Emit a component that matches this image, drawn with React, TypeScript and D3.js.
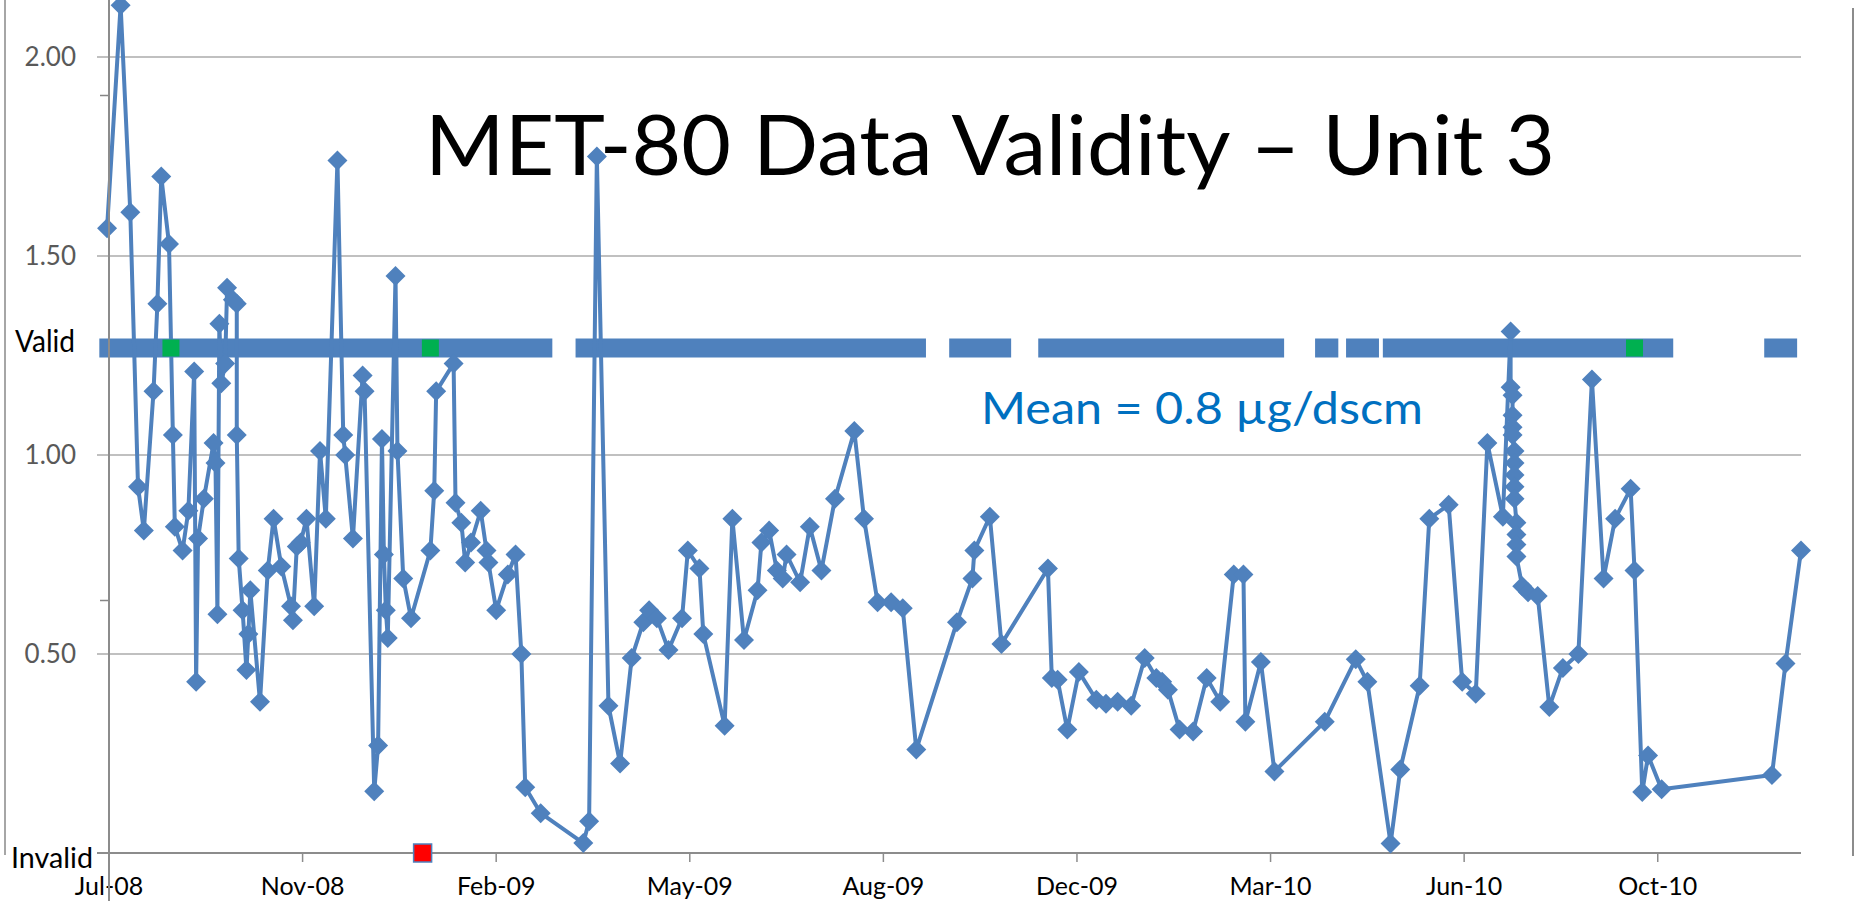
import React from "react";
import * as d3 from "d3";

// ---- data ----
const readingDates = [
  "2008-07-24","2008-07-31","2008-08-05","2008-08-09","2008-08-12","2008-08-17","2008-08-19","2008-08-21","2008-08-25","2008-08-27",
  "2008-08-28","2008-09-01","2008-09-04","2008-09-07","2008-09-08","2008-09-09","2008-09-12","2008-09-17","2008-09-18","2008-09-19",
  "2008-09-20","2008-09-21","2008-09-23","2008-09-24","2008-09-27","2008-09-29","2008-09-29","2008-09-30","2008-10-02","2008-10-04",
  "2008-10-05","2008-10-06","2008-10-11","2008-10-15","2008-10-18","2008-10-22","2008-10-27","2008-10-28","2008-10-30","2008-11-01",
  "2008-11-04","2008-11-08","2008-11-11","2008-11-14","2008-11-20","2008-11-23","2008-11-24","2008-11-28","2008-12-03","2008-12-04",
  "2008-12-09","2008-12-11","2008-12-13","2008-12-14","2008-12-15","2008-12-16","2008-12-20","2008-12-21","2008-12-24","2008-12-28",
  "2009-01-07","2009-01-09","2009-01-10","2009-01-19","2009-01-20","2009-01-23","2009-01-25","2009-01-28","2009-02-02","2009-02-05",
  "2009-02-06","2009-02-10","2009-02-16","2009-02-20","2009-02-23","2009-02-25","2009-03-05","2009-03-27","2009-03-30","2009-04-03",
  "2009-04-09","2009-04-15","2009-04-21","2009-04-27","2009-04-30","2009-05-04","2009-05-10","2009-05-17","2009-05-20","2009-05-26",
  "2009-05-28","2009-06-08","2009-06-12","2009-06-18","2009-06-25","2009-06-27","2009-07-01","2009-07-05","2009-07-08","2009-07-10",
  "2009-07-17","2009-07-22","2009-07-28","2009-08-04","2009-08-14","2009-08-19","2009-08-26","2009-09-02","2009-09-08","2009-09-15",
  "2009-10-06","2009-10-14","2009-10-15","2009-10-23","2009-10-29","2009-11-22","2009-11-24","2009-11-27","2009-12-02","2009-12-08",
  "2009-12-17","2009-12-22","2009-12-28","2010-01-04","2010-01-11","2010-01-17","2010-01-20","2010-01-23","2010-01-29","2010-02-05",
  "2010-02-12","2010-02-19","2010-02-26","2010-03-03","2010-03-04","2010-03-12","2010-03-19","2010-04-14","2010-04-30","2010-05-06",
  "2010-05-18","2010-05-23","2010-06-02","2010-06-07","2010-06-17","2010-06-24","2010-07-01","2010-07-07","2010-07-15","2010-07-19",
  "2010-07-19","2010-07-20","2010-07-20","2010-07-20","2010-07-20","2010-07-21","2010-07-21","2010-07-21","2010-07-21","2010-07-21",
  "2010-07-22","2010-07-22","2010-07-22","2010-07-22","2010-07-25","2010-07-28","2010-08-02","2010-08-08","2010-08-15","2010-08-23",
  "2010-08-30","2010-09-05","2010-09-11","2010-09-19","2010-09-21","2010-09-25","2010-09-28","2010-10-05","2010-12-01","2010-12-08",
  "2010-12-16"
];
const readingValues = [
  1.57, 2.13, 1.61, 0.92, 0.81, 1.16, 1.38, 1.70, 1.53, 1.05,
  0.82, 0.76, 0.86, 1.21, 0.43, 0.79, 0.89, 1.03, 0.98, 0.60,
  1.33, 1.18, 1.23, 1.42, 1.39, 1.38, 1.05, 0.74, 0.61, 0.46,
  0.55, 0.66, 0.38, 0.71, 0.84, 0.72, 0.62, 0.585, 0.77, 0.78,
  0.84, 0.62, 1.01, 0.84, 1.74, 1.05, 1.00, 0.79, 1.20, 1.16,
  0.155, 0.27, 1.04, 0.75, 0.61, 0.54, 1.45, 1.01, 0.69, 0.59,
  0.76, 0.91, 1.16, 1.23, 0.88, 0.83, 0.73, 0.78, 0.86, 0.76,
  0.73, 0.61, 0.70, 0.75, 0.50, 0.165, 0.10, 0.025, 0.08, 1.75,
  0.37, 0.225, 0.49, 0.58, 0.61, 0.59, 0.51, 0.59, 0.76, 0.715,
  0.55, 0.32, 0.84, 0.535, 0.66, 0.78, 0.81, 0.71, 0.69, 0.75,
  0.68, 0.82, 0.71, 0.89, 1.06, 0.84, 0.63, 0.63, 0.615, 0.26,
  0.58, 0.69, 0.76, 0.845, 0.525, 0.715, 0.44, 0.435, 0.31, 0.455,
  0.385, 0.375, 0.38, 0.37, 0.49, 0.44, 0.43, 0.41, 0.31, 0.305,
  0.44, 0.38, 0.70, 0.70, 0.33, 0.48, 0.205, 0.33, 0.487, 0.43,
  0.024, 0.21, 0.42, 0.84, 0.875, 0.43, 0.40, 1.03, 0.845, 1.31,
  1.17, 1.15, 1.10, 1.07, 1.05, 1.01, 0.98, 0.95, 0.92, 0.89,
  0.83, 0.80, 0.775, 0.745, 0.67, 0.655, 0.646, 0.367, 0.465, 0.50,
  1.19, 0.69, 0.84, 0.915, 0.71, 0.153, 0.245, 0.16, 0.196, 0.476,
  0.76
];

// periods flagged "Valid"
const validStarts = ["2008-07-20","2009-03-23","2009-10-02","2009-11-17","2010-04-09","2010-04-25","2010-05-14","2010-11-27"];
const validEnds   = ["2009-03-11","2009-09-20","2009-11-03","2010-03-24","2010-04-21","2010-05-12","2010-10-11","2010-12-14"];
const checkDates = ["2008-08-26", "2009-01-07", "2010-09-21"];
const invalidDates = ["2009-01-03"];

const yTicks = [0.5, 1.0, 1.5, 2.0];
const validityTicks = [0, 0.5, 1, 1.5];
const xTickDates = ["2008-07-25","2008-11-02","2009-02-10","2009-05-21","2009-08-29","2009-12-07","2010-03-17","2010-06-25","2010-10-03"];
const xTickLabels = ["Jul-08","Nov-08","Feb-09","May-09","Aug-09","Dec-09","Mar-10","Jun-10","Oct-10"];

const W = 1856;
const H = 901;
const BLUE = "#4F81BD";
const FONT = "Lato, 'Open Sans', sans-serif";
const parse = d3.timeParse("%Y-%m-%d");

export default function App() {
  const x = d3.scaleTime()
    .domain([parse("2008-07-25") as Date, parse("2010-12-16") as Date])
    .range([109, 1801]);
  const y = d3.scaleLinear().domain([0, 2]).range([853, 57]);
  const yV = d3.scaleLinear().domain([0, 1]).range([853, 348]);

  const data = readingDates.map((d, i) => ({ date: parse(d) as Date, v: readingValues[i] }));
  const line = d3.line<{ date: Date; v: number }>().x((d) => x(d.date)).y((d) => y(d.v));
  const diamond = (r: number) => `M0,${-r}L${r},0L0,${r}L${-r},0Z`;

  const barH = 19;
  const sq = 17;

  return (
    <div style={{ position: "absolute", left: 0, top: 0, width: W, height: H, background: "#fff" }}>
      <svg width={W} height={H} style={{ display: "block" }} fontFamily={FONT}>
        <rect x={0} y={0} width={W} height={H} fill="#ffffff" />
        {/* frame lines */}
        <line x1={5} x2={5} y1={0} y2={855} stroke="#a6a6a6" strokeWidth={2} />
        <line x1={1853} x2={1853} y1={8} y2={856} stroke="#8c8c8c" strokeWidth={2} />

        {/* gridlines */}
        {yTicks.map((t) => (
          <line key={t} x1={97} x2={1801} y1={y(t)} y2={y(t)} stroke="#c0c0c0" strokeWidth={2.2} />
        ))}
        {/* y labels */}
        {yTicks.map((t) => (
          <text key={"l" + t} x={76} y={y(t)} dy="0.35em" textAnchor="end" fontSize={26} fill="#595959">
            {d3.format(".2f")(t)}
          </text>
        ))}
        {/* secondary ticks */}
        {validityTicks.map((t) => (
          <line key={"v" + t} x1={100} x2={109} y1={yV(t)} y2={yV(t)} stroke="#868686" strokeWidth={1.5} />
        ))}

        {/* x axis */}
        <line x1={97} x2={1801} y1={853} y2={853} stroke="#8c8c8c" strokeWidth={2} />
        {xTickDates.map((d, i) => {
          const xx = x(parse(d) as Date);
          return (
            <g key={d}>
              <line x1={xx} x2={xx} y1={853} y2={862} stroke="#8c8c8c" strokeWidth={1.5} />
              <text x={xx} y={895} textAnchor="middle" fontSize={25} fill="#000">
                {xTickLabels[i]}
              </text>
            </g>
          );
        })}

        {/* Valid / Invalid labels */}
        <text x={15} y={352} fontSize={30} fill="#000" textLength={60} lengthAdjust="spacingAndGlyphs">Valid</text>
        <text x={11} y={868} fontSize={29} fill="#000" textLength={82} lengthAdjust="spacingAndGlyphs">Invalid</text>

        {/* valid periods */}
        {validStarts.map((s, i) => {
          const x0 = x(parse(s) as Date);
          const x1 = x(parse(validEnds[i]) as Date);
          return <rect key={s} x={x0} y={yV(1) - barH / 2} width={x1 - x0} height={barH} fill={BLUE} />;
        })}

        {/* title */}
        <text x={425} y={175} fontSize={84} fill="#000" textLength={1130} lengthAdjust="spacingAndGlyphs">
          MET-80 Data Validity – Unit 3
        </text>
        <text x={981} y={424} fontSize={45} fill="#0070C0" textLength={442} lengthAdjust="spacingAndGlyphs">
          Mean = 0.8 µg/dscm
        </text>

        {/* series */}
        <path d={line(data) || ""} fill="none" stroke={BLUE} strokeWidth={4} strokeLinejoin="round" />
        {data.map((d, i) => (
          <path key={i} d={diamond(10)} transform={`translate(${x(d.date)},${y(d.v)})`} fill={BLUE} />
        ))}

        {/* check / invalid markers */}
        {checkDates.map((d) => (
          <rect key={d} x={x(parse(d) as Date) - sq / 2} y={yV(1) - sq / 2} width={sq} height={sq} fill="#00B050" />
        ))}
        {invalidDates.map((d) => (
          <rect key={d} x={x(parse(d) as Date) - 9} y={yV(0) - 9} width={18} height={18} fill="#FF0000" stroke={BLUE} strokeWidth={1.5} />
        ))}

        {/* y axis line */}
        <line x1={109} x2={109} y1={0} y2={901} stroke="#8c8c8c" strokeWidth={2} />
      </svg>
    </div>
  );
}
